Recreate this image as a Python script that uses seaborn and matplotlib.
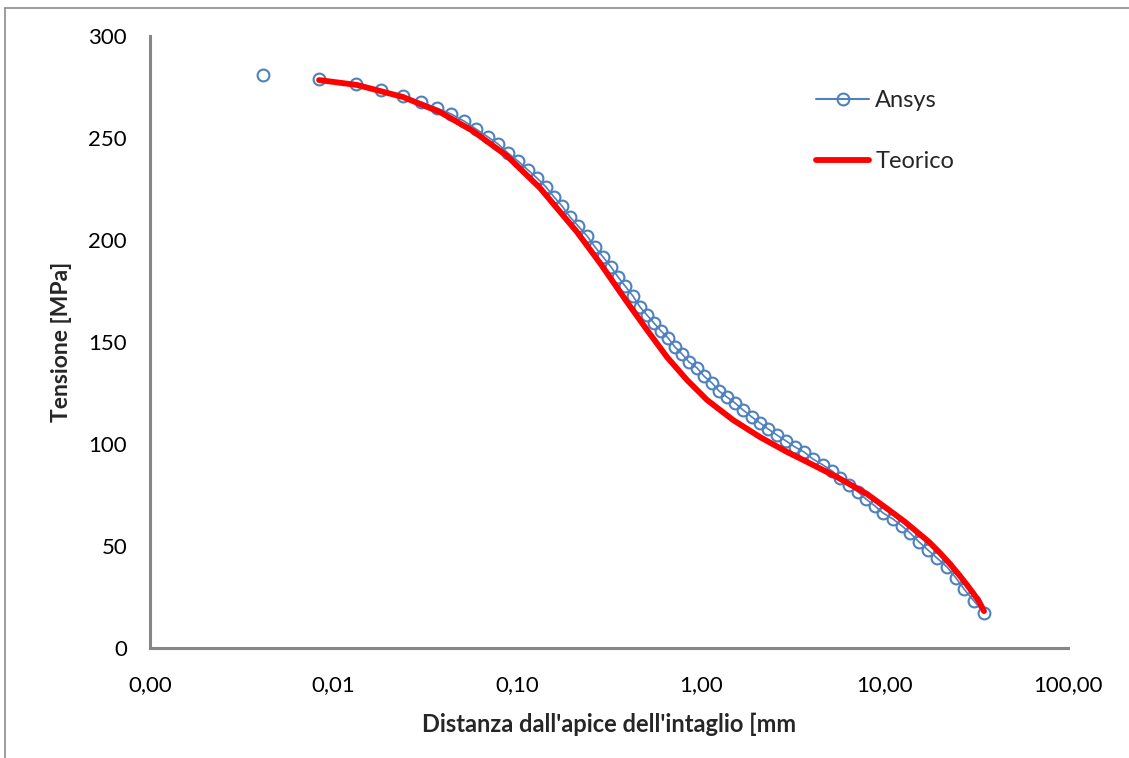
import matplotlib
matplotlib.use("Agg")
import matplotlib.pyplot as plt
from matplotlib.lines import Line2D
from matplotlib.ticker import FixedLocator, NullLocator
import pandas as pd
import seaborn as sns

# Ansys nodal results: distance from notch tip [mm] and stress [MPa]
ansys_x = [0.0041, 0.00833, 0.01324, 0.01812, 0.02388, 0.02992, 0.03657, 0.04359,
           0.05131, 0.05965, 0.06934, 0.07859, 0.08911, 0.1010, 0.1145, 0.1281,
           0.1435, 0.1586, 0.1754, 0.1939, 0.2144, 0.2400, 0.2653, 0.2934,
           0.3243, 0.3540, 0.3865, 0.4273, 0.4665, 0.5093, 0.5560, 0.6070,
           0.6630, 0.7237, 0.7902, 0.8624, 0.9535, 1.041, 1.151, 1.256,
           1.389, 1.536, 1.697, 1.900, 2.101, 2.323, 2.600, 2.912,
           3.260, 3.649, 4.085, 4.630, 5.184, 5.732, 6.416, 7.182,
           7.940, 8.888, 9.826, 11.14, 12.47, 13.79, 15.44, 17.28,
           19.34, 21.93, 24.55, 27.14, 30.76, 34.86]
ansys_y = [280.9, 278.9, 276.5, 273.5, 270.6, 267.6, 264.7, 261.8,
           258.3, 254.4, 250.5, 247.1, 242.6, 238.7, 234.3, 230.4,
           226.0, 221.1, 216.7, 211.3, 206.9, 202.0, 196.6, 191.7,
           186.8, 181.9, 177.5, 172.5, 167.2, 163.2, 159.3, 155.4,
           152.0, 147.5, 144.1, 140.2, 137.3, 133.3, 129.9, 126.0,
           123.0, 120.1, 116.7, 113.2, 110.3, 107.4, 104.4, 101.5,
           98.5, 96.1, 92.6, 89.7, 86.8, 83.3, 79.9, 76.5,
           73.0, 69.6, 66.2, 63.2, 59.8, 56.4, 52.0, 48.0,
           44.1, 39.7, 34.3, 28.9, 23.0, 17.2]

# Theoretical stress distribution
teo_x = [0.00833, 0.01341, 0.02388, 0.03797, 0.05744, 0.0880, 0.1331, 0.2117,
         0.2825, 0.3963, 0.5093, 0.6546, 0.8408, 1.081, 1.497, 2.101,
         2.948, 3.603, 5.519, 8.039, 11.14, 12.95, 15.06, 17.50, 20.08,
         22.77, 25.81, 28.18, 30.38, 32.75, 34.86]
teo_y = [278.4, 276.0, 270.1, 262.7, 253.4, 241.2, 225.5, 203.9,
         188.7, 169.6, 155.9, 142.6, 131.4, 121.6, 111.8, 103.4,
         96.1, 92.2, 83.8, 75.5, 66.2, 61.8, 56.9, 52.0, 46.6,
         41.2, 35.3, 30.9, 27.0, 22.8, 18.1]

x_ticks = [0.001, 0.01, 0.1, 1, 10, 100]
x_tick_labels = ["0,00", "0,01", "0,10", "1,00", "10,00", "100,00"]
y_ticks = [0, 50, 100, 150, 200, 250, 300]

BLUE = "#4F81BD"
RED = "#FF0000"
GREY = "#868686"

sns.set_theme(style="white")
plt.rcParams["font.family"] = ["Lato", "DejaVu Sans"]

fig = plt.figure(figsize=(11.29, 7.58), dpi=100)
ax = fig.add_axes([150 / 1129, 110 / 758, 918 / 1129, 612 / 758])

df_first = pd.DataFrame({"x": ansys_x[:1], "y": ansys_y[:1]})
df_ansys = pd.DataFrame({"x": ansys_x[1:], "y": ansys_y[1:]})
df_teo = pd.DataFrame({"x": teo_x, "y": teo_y})

marker_kw = dict(marker="o", markersize=8.5, markerfacecolor="none",
                 markeredgecolor=BLUE, markeredgewidth=1.5)

sns.lineplot(data=df_first, x="x", y="y", ax=ax, color=BLUE, linewidth=0,
             estimator=None, sort=False, **marker_kw)
sns.lineplot(data=df_ansys, x="x", y="y", ax=ax, color=BLUE, linewidth=1.2,
             estimator=None, sort=False, **marker_kw)
sns.lineplot(data=df_teo, x="x", y="y", ax=ax, color=RED, linewidth=4.2,
             estimator=None, sort=False, solid_capstyle="round",
             solid_joinstyle="round", zorder=3)

ax.set_xscale("log")
ax.set_xlim(0.001, 100)
ax.set_ylim(0, 300)
ax.xaxis.set_major_locator(FixedLocator(x_ticks))
ax.xaxis.set_minor_locator(NullLocator())
ax.set_xticklabels(x_tick_labels)
ax.set_yticks(y_ticks)
ax.set_yticklabels([str(v) for v in y_ticks])

for side in ("top", "right"):
    ax.spines[side].set_visible(False)
for side in ("left", "bottom"):
    ax.spines[side].set_color(GREY)
    ax.spines[side].set_linewidth(2.2)

ax.tick_params(axis="both", which="major", direction="out", length=5.5,
               width=2.2, color=GREY, labelsize=16, labelcolor="black")
ax.tick_params(axis="y", pad=11)
ax.tick_params(axis="x", pad=14)
ax.grid(False)

ax.set_xlabel("Distanza dall'apice dell'intaglio [mm", fontsize=17,
              fontweight="bold", labelpad=13)
ax.set_ylabel("Tensione [MPa]", fontsize=16.5, fontweight="bold", labelpad=12)

handles = [
    Line2D([], [], color=BLUE, linewidth=1.5, marker="o", markersize=8.5,
           markerfacecolor="none", markeredgecolor=BLUE, markeredgewidth=1.5),
    Line2D([], [], color=RED, linewidth=4.2, solid_capstyle="round"),
]
ax.legend(handles, ["Ansys", "Teorico"], loc="upper left",
          bbox_to_anchor=(0.7025, 0.946), frameon=False, fontsize=17,
          handlelength=2.25, handletextpad=0.25, labelspacing=1.7)

# chart area border
fig.add_artist(Line2D([5 / 1129, 5 / 1129], [0.0, 1 - 8 / 758],
                      transform=fig.transFigure, color="#8c8c8c", linewidth=1.2))
fig.add_artist(Line2D([5 / 1129, 1.0], [1 - 8 / 758, 1 - 8 / 758],
                      transform=fig.transFigure, color="#8c8c8c", linewidth=1.2))

fig.savefig("out.png", dpi=100)
